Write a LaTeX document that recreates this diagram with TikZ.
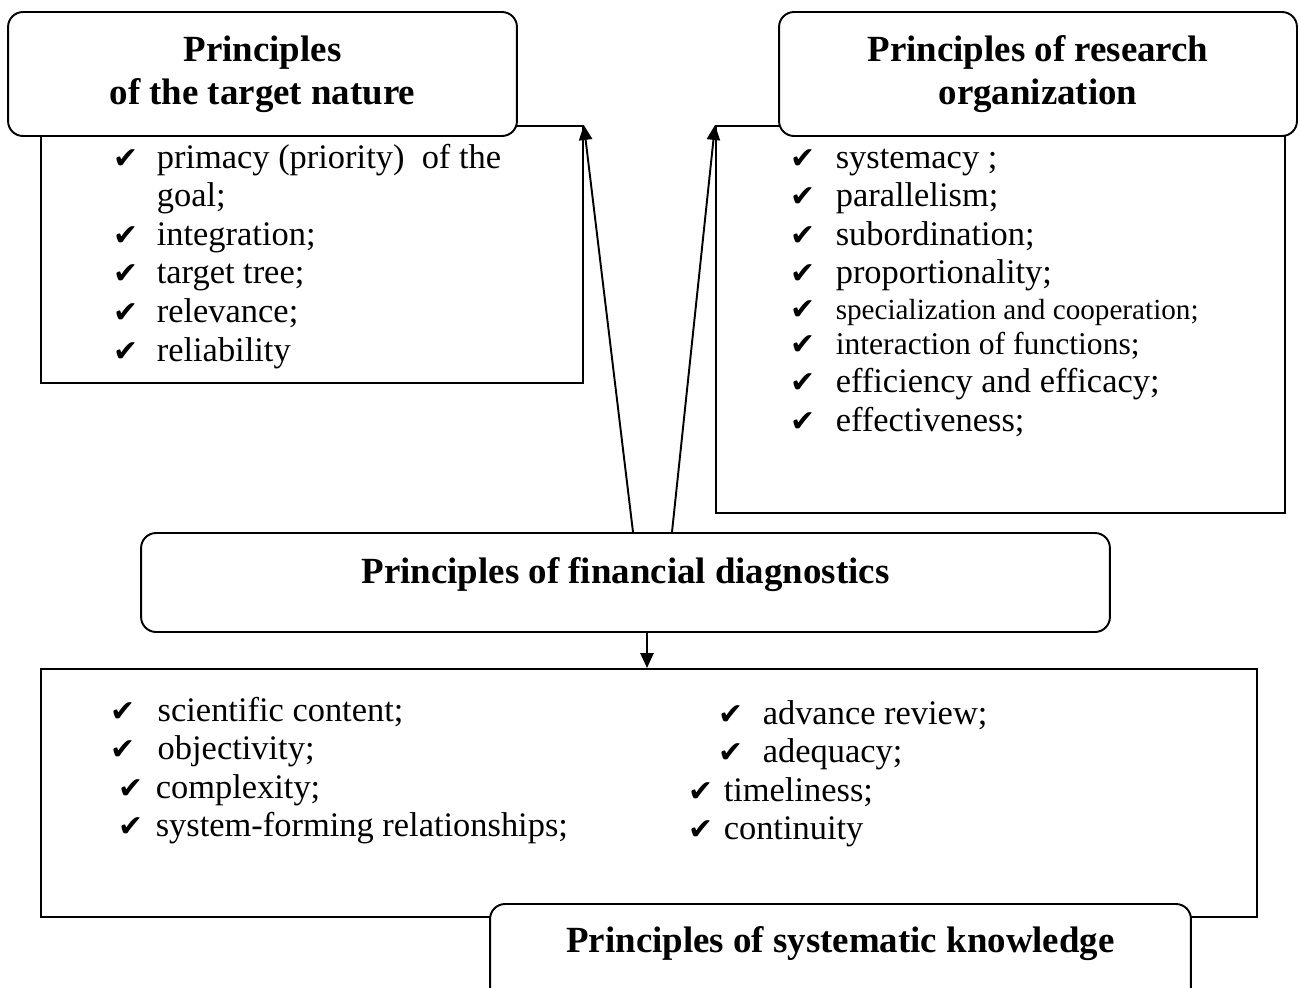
\documentclass[tikz,border=0pt]{standalone}
\usepackage{fontspec}
\setmainfont{Liberation Serif}
\newfontfamily\symfont{DejaVu Sans}
\usetikzlibrary{arrows.meta}

\newcommand\chk{{\symfont\fontsize{17}{17}\selectfont ✔}}
\newcommand\chkitem[2]{\makebox[#1][l]{\chk}#2}

\begin{document}
\begin{tikzpicture}[x=0.02cm,y=-0.02cm,line width=1.1pt,
  head/.style={draw,fill=white,rounded corners=8.5pt,inner sep=0pt,align=center,
    font=\fontsize{21}{24.5}\selectfont\bfseries},
  listbox/.style={draw,anchor=north west,inner sep=0pt},
  items/.style={anchor=base west,inner sep=0pt,font=\fontsize{19.6}{22}\selectfont},
  >={Triangle[length=8.5pt,width=7.5pt]}]
\useasboundingbox (0,0) rectangle (1300,987);
\clip (0,0) rectangle (1300,987);

% boxes with the lists
\node[listbox,minimum width=10.84cm,minimum height=5.14cm] (targetlist) at (40,125) {};
\node[listbox,minimum width=11.38cm,minimum height=7.74cm] (researchlist) at (715,125) {};
\node[listbox,minimum width=24.32cm,minimum height=4.96cm] (syslist) at (40,668) {};

% headings
\node[head,minimum width=10.18cm,minimum height=2.48cm] (target) at (262.5,74)
  {Principles\\of the target nature};
\node[head,minimum width=10.36cm,minimum height=2.48cm] (research) at (1038,74)
  {Principles of research\\organization};
\node[head,minimum width=19.38cm,text height=1cm,text depth=0.98cm] (fin) at (625.5,582.5)
  {Principles of financial diagnostics};
\node[head,minimum width=14.02cm,text height=0.96cm,text depth=1.04cm] (sys) at (840.5,954)
  {Principles of systematic knowledge};

% items
\node[items] (targetitems) at (113,168) {\begin{tabular}[t]{@{}l@{}}
  \chkitem{24.4pt}{primacy (priority)\ \ of the}\\
  \makebox[24.4pt]{}goal;\\
  \chkitem{24.4pt}{integration;}\\
  \chkitem{24.4pt}{target tree;}\\
  \chkitem{24.4pt}{relevance;}\\
  \chkitem{24.4pt}{reliability}
\end{tabular}};
\node[items] (researchitems) at (790,168) {\begin{tabular}[t]{@{}l@{}}
  \chkitem{25.5pt}{systemacy ;}\\
  \chkitem{25.5pt}{parallelism;}\\
  \chkitem{25.5pt}{subordination;}\\
  \chkitem{25.5pt}{proportionality;}\\[-2pt]
  \chkitem{25.5pt}{\fontsize{16.6}{18}\selectfont specialization and cooperation;}\\[-2pt]
  \chkitem{25.5pt}{\fontsize{18}{20}\selectfont interaction of functions;}\\
  \chkitem{25.5pt}{efficiency and efficacy;}\\
  \chkitem{25.5pt}{effectiveness;}
\end{tabular}};
\node[items] (sysleft) at (110,721) {\begin{tabular}[t]{@{}l@{}}
  \chkitem{26.6pt}{scientific content;}\\
  \chkitem{26.6pt}{objectivity;}\\
  \hspace*{4.5pt}\chkitem{21pt}{complexity;}\\
  \hspace*{4.5pt}\chkitem{21pt}{system-forming relationships;}
\end{tabular}};
\node[items] (sysright) at (688,724) {\begin{tabular}[t]{@{}l@{}}
  \hspace*{17pt}\chkitem{25pt}{advance review;}\\
  \hspace*{17pt}\chkitem{25pt}{adequacy;}\\
  \chkitem{19.8pt}{timeliness;}\\
  \chkitem{19.8pt}{continuity}
\end{tabular}};

% connectors
\draw[->] ([xshift=0.15cm]fin.north) -- (targetlist.north east);
\draw[->] ([xshift=0.93cm]fin.north) -- (researchlist.north west);
\draw[->] ([xshift=0.43cm]fin.south) -- ([xshift=0.43cm]fin.south |- syslist.north);
\end{tikzpicture}
\end{document}
